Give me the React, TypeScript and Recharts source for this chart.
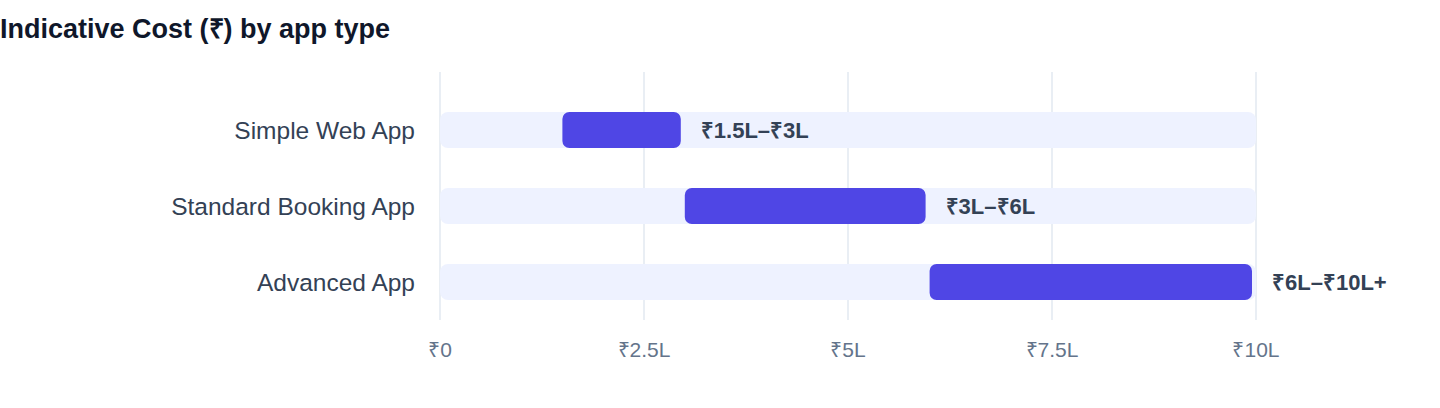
import React from 'react';
import { BarChart, Bar, XAxis, YAxis, CartesianGrid, LabelList, Rectangle } from 'recharts';

const categories = ['Simple Web App', 'Standard Booking App', 'Advanced App'];
const lowValues = [1.5, 3, 6];
const highValues = [3, 6, 10];
const rangeLabels = ['₹1.5L–₹3L', '₹3L–₹6L', '₹6L–₹10L+'];
const tickValues = [0, 2.5, 5, 7.5, 10];
const tickLabels = ['₹0', '₹2.5L', '₹5L', '₹7.5L', '₹10L'];

const data = categories.map((name, i) => ({
  name,
  range: [lowValues[i], highValues[i]],
  label: rangeLabels[i],
}));

const FONT = '"Liberation Sans", Arial, Helvetica, sans-serif';

const RangeShape = (props: any) => {
  const { x, y, width, height } = props;
  return <Rectangle x={x} y={y} width={Math.max(0, width - 4)} height={height} radius={7} fill="#4f46e5" />;
};

const renderLabel = (props: any) => {
  const { x, y, width, height, value } = props;
  return (
    <text
      x={x + width + 16}
      y={y + height / 2}
      dominantBaseline="central"
      fill="#334155"
      fontSize={22}
      fontWeight={700}
      fontFamily={FONT}
    >
      {value}
    </text>
  );
};

export default function App() {
  return (
    <div style={{ position: 'absolute', left: 0, top: 0, width: 1440, height: 408, background: '#fff', fontFamily: FONT }}>
      <div
        style={{
          position: 'absolute',
          left: 0,
          top: 15.6,
          fontSize: 27,
          lineHeight: '27px',
          fontWeight: 700,
          color: '#0f172a',
          whiteSpace: 'nowrap',
        }}
      >
        Indicative Cost (₹) by app type
      </div>
      <BarChart
        width={1440}
        height={408}
        data={data}
        layout="vertical"
        margin={{ top: 72, right: 184, bottom: 28, left: 0 }}
        barSize={36}
      >
        <CartesianGrid horizontal={false} stroke="#e2e8f0" strokeWidth={1.5} />
        <XAxis
          type="number"
          domain={[0, 10]}
          ticks={tickValues}
          tickFormatter={(v: number) => tickLabels[tickValues.indexOf(v)]}
          axisLine={false}
          tickLine={false}
          tickSize={0}
          tickMargin={22}
          height={60}
          tick={{ fill: '#64748b', fontSize: 21, fontFamily: FONT }}
        />
        <YAxis
          type="category"
          dataKey="name"
          width={440}
          axisLine={false}
          tickLine={false}
          tickSize={0}
          tickMargin={25}
          padding={{ top: 20, bottom: 0 }}
          tick={{ fill: '#334155', fontSize: 24.5, fontFamily: FONT }}
        />
        <Bar
          dataKey="range"
          isAnimationActive={false}
          background={{ fill: '#eef2ff', radius: 8 }}
          shape={RangeShape}
        >
          <LabelList dataKey="label" content={renderLabel} />
        </Bar>
      </BarChart>
    </div>
  );
}
